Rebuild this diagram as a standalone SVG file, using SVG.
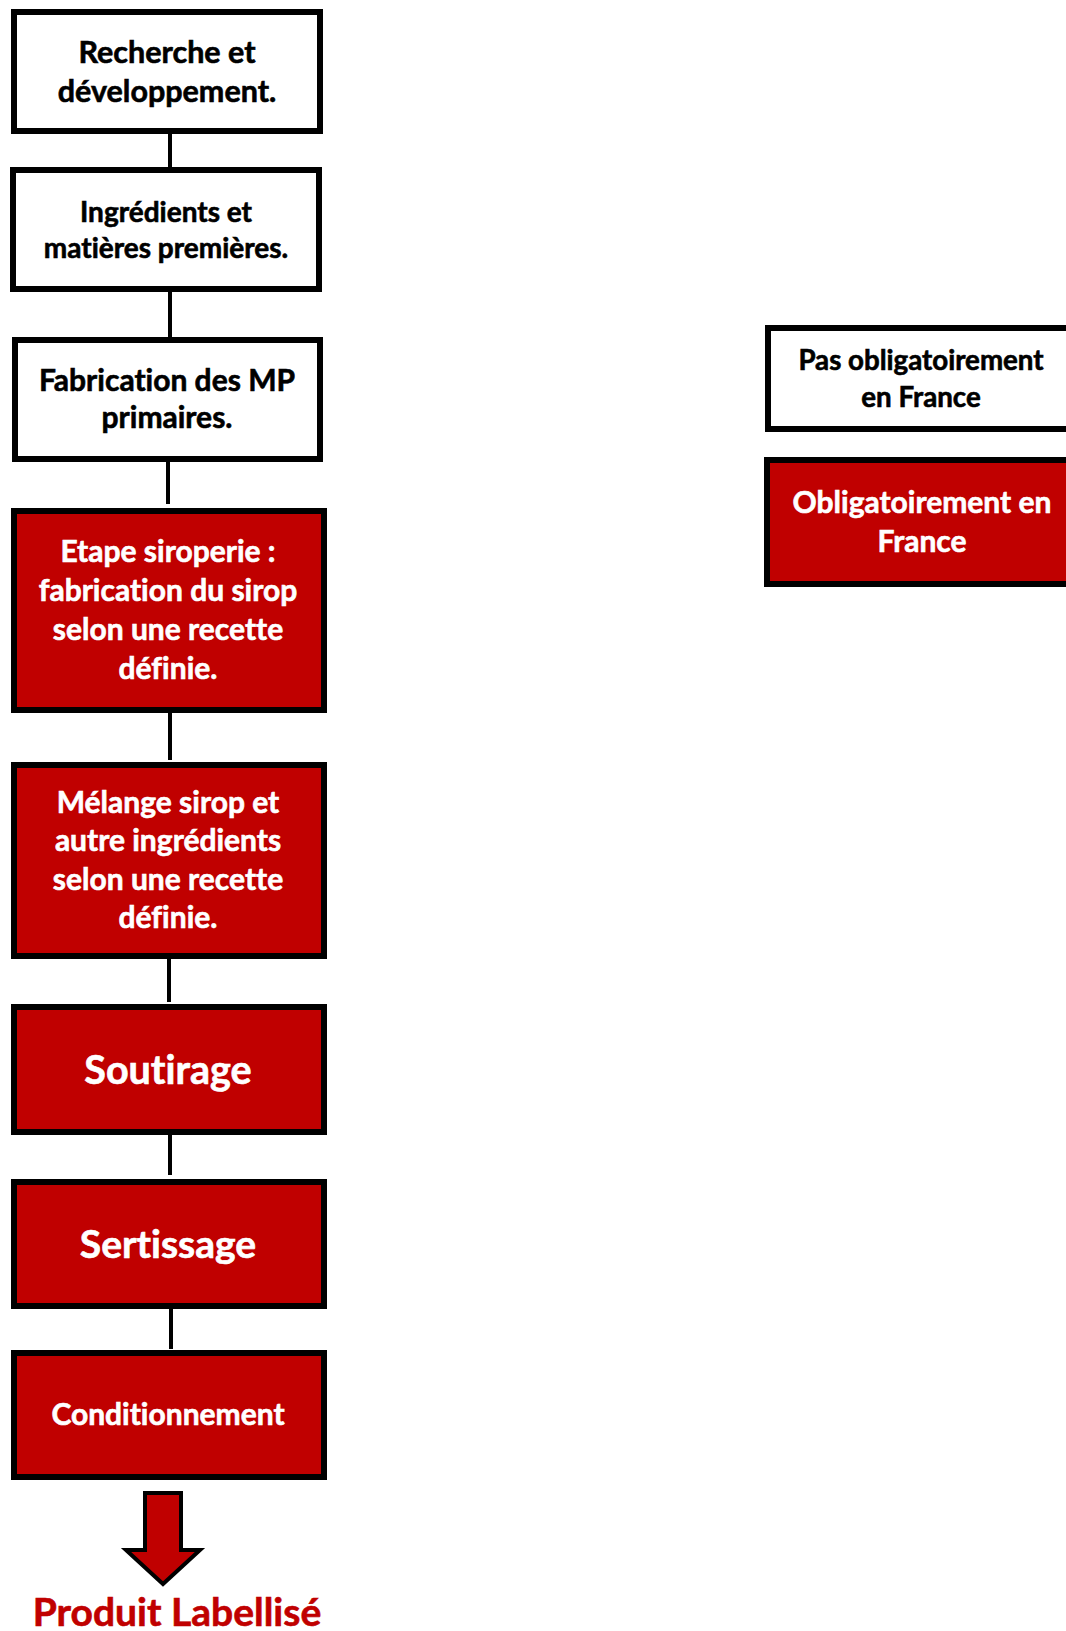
<svg xmlns="http://www.w3.org/2000/svg" width="1066" height="1631" viewBox="0 0 1066 1631">
<style>
.w{fill:#FFFFFF;stroke:#000000;stroke-width:6}
.r{fill:#C00000;stroke:#000000;stroke-width:6}
.t{font-family:Lato,"Open Sans","Liberation Sans",sans-serif;font-weight:bold;text-anchor:middle;font-variant-ligatures:none;stroke-width:0.6}
.tb{fill:#000000;stroke:#000000}
.tw{fill:#FFFFFF;stroke:#FFFFFF}
.tr{fill:#C00000;stroke:#C00000}
.c{stroke:#000000;stroke-width:4;fill:none}
</style>
<rect width="1066" height="1631" fill="#FFFFFF"/>
<g id="connectors">
<line class="c" x1="170" y1="125" x2="170" y2="168"/>
<line class="c" x1="170" y1="290" x2="170" y2="338"/>
<line class="c" x1="168" y1="453" x2="168" y2="504"/>
<line class="c" x1="170" y1="705" x2="170" y2="760"/>
<line class="c" x1="169" y1="957" x2="169" y2="1002"/>
<line class="c" x1="170" y1="1128" x2="170" y2="1175"/>
<line class="c" x1="171" y1="1307" x2="171" y2="1349"/>
<polygon points="145,1493 181,1493 181,1550 200,1550 163,1584 126,1550 145,1550" fill="#C00000" stroke="#000000" stroke-width="4"/>
</g>
<g id="n1">
<rect class="w" x="14" y="12" width="306" height="119"/>
<text class="t tb" x="167" y="63" font-size="30.5">Recherche et</text>
<text class="t tb" x="167" y="102" font-size="30.5">développement.</text>
</g>
<g id="n2">
<rect class="w" x="13" y="170" width="306" height="119"/>
<text class="t tb" x="166" y="222" font-size="28">Ingrédients et</text>
<text class="t tb" x="166" y="258" font-size="28">matières premières.</text>
</g>
<g id="n3">
<rect class="w" x="15" y="340" width="305" height="119"/>
<text class="t tb" x="167" y="391" font-size="30">Fabrication des MP</text>
<text class="t tb" x="167" y="428" font-size="30">primaires.</text>
</g>
<g id="n4">
<rect class="r" x="14" y="511" width="310" height="199"/>
<text class="t tw" x="168" y="562" font-size="30">Etape siroperie :</text>
<text class="t tw" x="168" y="601" font-size="30">fabrication du sirop</text>
<text class="t tw" x="168" y="640" font-size="30">selon une recette</text>
<text class="t tw" x="168" y="679" font-size="30">définie.</text>
</g>
<g id="n5">
<rect class="r" x="14" y="765" width="310" height="191"/>
<text class="t tw" x="168" y="813" font-size="30">Mélange sirop et</text>
<text class="t tw" x="168" y="851" font-size="30">autre ingrédients</text>
<text class="t tw" x="168" y="890" font-size="30">selon une recette</text>
<text class="t tw" x="168" y="928" font-size="30">définie.</text>
</g>
<g id="n6">
<rect class="r" x="14" y="1007" width="310" height="125"/>
<text class="t tw" x="168" y="1084" font-size="39.5">Soutirage</text>
</g>
<g id="n7">
<rect class="r" x="14" y="1182" width="310" height="124"/>
<text class="t tw" x="168" y="1258" font-size="39">Sertissage</text>
</g>
<g id="n8">
<rect class="r" x="14" y="1353" width="310" height="124"/>
<text class="t tw" x="168" y="1425" font-size="30">Conditionnement</text>
</g>
<g id="result">
<text class="t tr" x="177" y="1626" font-size="39">Produit Labellisé</text>
</g>
<g id="legend-not-required">
<rect class="w" x="768" y="328" width="320" height="101"/>
<text class="t tb" x="921" y="370" font-size="27.7">Pas obligatoirement</text>
<text class="t tb" x="921" y="407" font-size="27.7">en France</text>
</g>
<g id="legend-required">
<rect class="r" x="767" y="460" width="320" height="124"/>
<text class="t tw" x="922" y="513" font-size="30">Obligatoirement en</text>
<text class="t tw" x="922" y="552" font-size="30">France</text>
</g>
</svg>
